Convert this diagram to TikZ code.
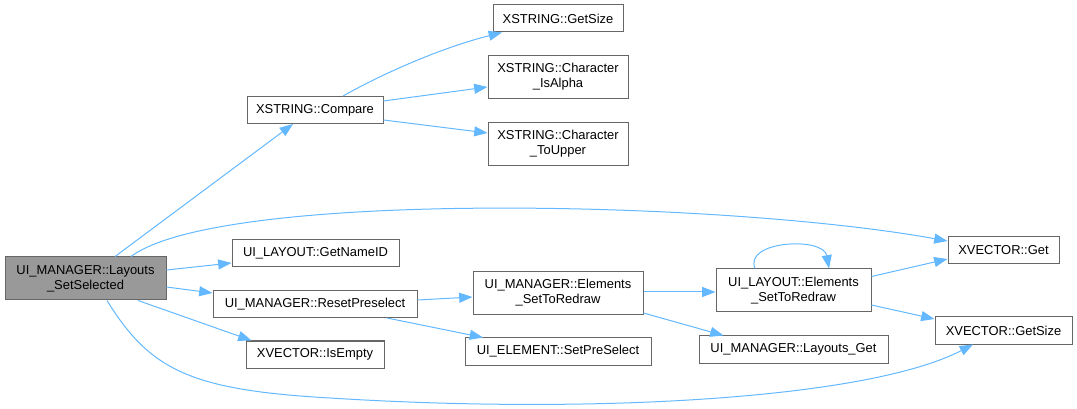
\documentclass[tikz,border=0pt]{standalone}
\usepackage{fontspec}
\setmainfont{Liberation Sans}
\usetikzlibrary{arrows.meta,calc}
\definecolor{edgec}{HTML}{63B8FF}
\definecolor{boxc}{HTML}{666666}
\definecolor{mainfill}{HTML}{999999}
\tikzset{
  fn/.style={draw=boxc, fill=white, line width=0.75pt, inner sep=0pt, align=center,
    font=\fontsize{9.7}{11.25}\selectfont, minimum height=20.25pt},
  fntwo/.style={fn, minimum height=32.25pt},
  call/.style={draw=edgec, line width=0.75pt, -{Triangle[length=10pt,width=7.5pt]}}
}
\begin{document}
\begin{tikzpicture}[x=0.75pt,y=-0.75pt]
\useasboundingbox (0,0) rectangle (1077,409);
% nodes
\node[fntwo, fill=mainfill, minimum width=120.75pt] (main) at (85.5,278.5) {UI\_MANAGER::Layouts\\\_SetSelected};
\node[fn, minimum width=102pt] (cmp) at (315,110) {XSTRING::Compare};
\node[fn, minimum width=97.5pt] (xgs) at (558,18.5) {XSTRING::GetSize};
\node[fntwo, minimum width=105pt] (alpha) at (558,77) {XSTRING::Character\\\_IsAlpha};
\node[fntwo, minimum width=105pt] (upper) at (558,144) {XSTRING::Character\\\_ToUpper};
\node[fn, minimum width=125.25pt] (nameid) at (315.5,253) {UI\_LAYOUT::GetNameID};
\node[fn, minimum width=153pt] (reset) at (315,304) {UI\_MANAGER::ResetPreselect};
\node[fn, minimum width=103.5pt] (isempty) at (315,354.5) {XVECTOR::IsEmpty};
\node[fntwo, minimum width=127.5pt] (mel) at (558,293) {UI\_MANAGER::Elements\\\_SetToRedraw};
\node[fn, minimum width=139.5pt] (setpre) at (558,351.5) {UI\_ELEMENT::SetPreSelect};
\node[fntwo, minimum width=116.25pt] (lel) at (793.5,290.5) {UI\_LAYOUT::Elements\\\_SetToRedraw};
\node[fn, minimum width=141.75pt] (lget) at (793.5,349.5) {UI\_MANAGER::Layouts\_Get};
\node[fn, minimum width=83.25pt] (vget) at (1003.5,250.5) {XVECTOR::Get};
\node[fn, minimum width=102.75pt] (vgs) at (1003.5,330.5) {XVECTOR::GetSize};
% edges
\draw[call] ($(main.north)+(29.5,0)$) -- ($(cmp.south)+(-22,0)$);
\draw[call] ($(cmp.north)+(28,0)$) .. controls (380,75) and (440,48) .. ($(xgs.south)+(-56,0)$);
\draw[call] ($(cmp.east)+(0,-9)$) -- ($(alpha.west)+(0,10)$);
\draw[call] ($(cmp.east)+(0,10)$) -- ($(upper.west)+(0,-11)$);
\draw[call] ($(main.north)+(45.5,0)$) .. controls (220,190) and (720,200) .. ($(vget.west)+(0,-9.5)$);
\draw[call] ($(main.east)+(0,-8.5)$) -- ($(nameid.west)+(0,10)$);
\draw[call] ($(main.east)+(0,8.5)$) -- ($(reset.west)+(0,-11)$);
\draw[call] ($(main.south)+(52.5,0)$) -- ($(isempty.north west)+(6,0)$);
\draw[call] ($(main.south)+(21.5,0)$) .. controls (150,370) and (190,390) .. (330,398)
   .. controls (600,415) and (870,398) .. ($(vgs.south)+(-30.5,0)$);
\draw[call] ($(reset.east)+(0,-4)$) -- ($(mel.west)+(0,4)$);
\draw[call] ($(reset.south)+(72,0)$) -- ($(setpre.north)+(-75,0)$);
\draw[call] ($(mel.east)+(0,-1)$) -- ($(lel.west)+(0,1.5)$);
\draw[call] ($(mel.east)+(0,20)$) -- ($(lget.north)+(-70,0)$);
\draw[call] ($(lel.north)+(-38.5,0)$) .. controls ($(lel.north)+(-50,-28)$) and ($(lel.north)+(30,-32)$) .. ($(lel.north)+(35.5,0)$);
\draw[call] ($(lel.east)+(0,-14)$) -- ($(vget.west)+(0,8.5)$);
\draw[call] ($(lel.east)+(0,14.5)$) -- ($(vgs.west)+(0,-11.5)$);
\end{tikzpicture}
\end{document}
